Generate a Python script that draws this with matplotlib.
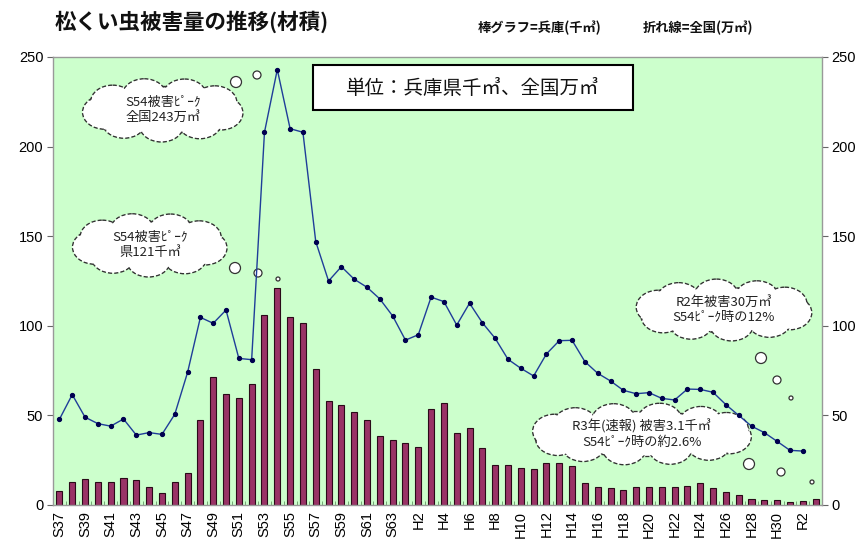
import numpy as np
import matplotlib.pyplot as plt
from matplotlib.patches import Ellipse, Circle, Rectangle

plt.rcParams['font.family'] = ['Noto Sans CJK JP', 'DejaVu Sans']

# 年度 (S37 .. R3)
years = (["S%d" % y for y in range(37, 64)]
         + ["H%d" % y for y in range(1, 31)]
         + ["R1", "R2", "R3"])

# 兵庫県 被害量 (千m3) S37..R3
hyogo = [8, 13, 14.3, 12.7, 13, 15, 13.8, 10, 6.5, 13, 18, 47.4, 71.4, 62, 59.9,
         67.7, 105.8, 121, 105, 101.7, 75.7, 58.2, 55.6, 51.9, 47.3, 38.3, 36.5,
         34.4, 32.4, 53.4, 56.9, 40.4, 43.2, 31.8, 22.3, 22.3, 20.6, 20.1, 23.6,
         23.6, 21.7, 12.5, 10.2, 9.3, 8.4, 10, 10, 10, 10, 10.6, 12.3, 9.3, 7.3,
         5.8, 3.5, 2.8, 2.8, 1.7, 2.2, 3.1]

# 全国 被害量 (万m3) S37..R2
zenkoku = [47.8, 61.6, 49, 45.4, 44, 48, 39, 40.4, 39.4, 50.6, 74, 104.7, 101.4,
           108.8, 81.8, 81.1, 208, 243, 210, 208, 147, 125, 133, 126, 121.5, 115,
           105.5, 92, 95, 116, 113.5, 100.4, 112.6, 101.7, 93, 81.3, 76.3, 72,
           84.3, 91.7, 91.9, 80, 73.5, 69.2, 64, 62.1, 62.7, 59.5, 58.6, 64.7,
           64.5, 62.9, 56, 50, 44, 40.4, 35.5, 30.5, 30.1]

yticks = [0, 50, 100, 150, 200, 250]

W, H = 858, 539
fig = plt.figure(figsize=(W / 100, H / 100), dpi=100)
fig.patch.set_facecolor('white')

ax = fig.add_axes([53 / W, 1 - 505 / H, (822 - 53) / W, (505 - 57) / H])
ax.set_facecolor('#ccffcc')

# overlay for pixel positioned decorations
ov = fig.add_axes([0, 0, 1, 1], zorder=-1)
ov.set_xlim(0, W)
ov.set_ylim(H, 0)
ov.axis('off')

x = np.arange(len(years))
ax.bar(x, hyogo, width=0.47, color='#993366', edgecolor='#2a0a18',
       linewidth=0.8, zorder=2)
ax.plot(x[:len(zenkoku)], zenkoku, color='#1f3d99', linewidth=1.0,
        marker='o', markersize=2.8, markerfacecolor='#000050',
        markeredgecolor='#000050', zorder=4)

ax.set_xlim(-0.5, len(years) - 0.5)
ax.set_ylim(0, 250)
ax.set_yticks(yticks)
ax.set_xticks(x[::2])
ax.set_xticklabels(years[::2], rotation=90, family='Liberation Sans', fontsize=10.5)
ax.set_xticks(np.arange(-0.5, len(years), 1), minor=True)
ax.tick_params(axis='x', which='major', length=0, pad=4)
ax.tick_params(axis='x', which='minor', length=3, color='#669966', direction='in')
ax.tick_params(axis='y', length=4, color='#666666', labelright=True, right=True,
               labelsize=10.5, pad=3)
for lab in ax.get_yticklabels():
    lab.set_family('Liberation Sans')
for sp in ax.spines.values():
    sp.set_color('#999999')
    sp.set_linewidth(1)


def cloud(cx, cy, a, b, n, r, lines):
    ang = np.linspace(0, 2 * np.pi, n, endpoint=False) + 0.2
    parts = [(cx, cy, a - r * 0.5, b - r * 0.5)]
    for t in ang:
        parts.append((cx + (a - r) * np.cos(t), cy + (b - r) * np.sin(t), r * 1.3, r))
    for px, py, ra, rb in parts:
        e = Ellipse((px, py), 2 * ra, 2 * rb, facecolor='white', edgecolor='#333333',
                    linestyle=(0, (3, 1.5)), linewidth=1.0, transform=ov.transData,
                    clip_on=False, zorder=3)
        ax.add_patch(e)
    for px, py, ra, rb in parts:
        e = Ellipse((px, py), 2 * ra - 2.2, 2 * rb - 2.2, facecolor='white',
                    edgecolor='none', transform=ov.transData, clip_on=False, zorder=3.1)
        ax.add_patch(e)
    ax.text(cx, cy, lines, transform=ov.transData, ha='center', va='center',
            fontsize=9.5, linespacing=1.25, zorder=3.2, color='#222222')


def bubbles(pts):
    for px, py, r in pts:
        ax.add_patch(Circle((px, py), r, facecolor='white', edgecolor='#333333',
                            linewidth=0.9, transform=ov.transData, clip_on=False,
                            zorder=3))


cloud(163, 110, 76, 32, 9, 17, "S54被害ﾋﾟｰｸ\n全国243万㎥")
bubbles([(236, 82, 5.5), (257, 75, 4)])
cloud(150, 245, 73, 32, 9, 17, "S54被害ﾋﾟｰｸ\n県121千㎥")
bubbles([(235, 268, 5.5), (258, 273, 4), (278, 279, 2)])
cloud(724, 310, 84, 31, 10, 17, "R2年被害30万㎥\nS54ﾋﾟｰｸ時の12%")
bubbles([(761, 358, 5.5), (777, 380, 4), (791, 398, 2)])
cloud(642, 434, 106, 31, 12, 17, "R3年(速報) 被害3.1千㎥\nS54ﾋﾟｰｸ時の約2.6%")
bubbles([(749, 464, 5.5), (781, 472, 4), (812, 482, 2)])

# 単位ボックス
ax.add_patch(Rectangle((313, 65), 320, 45, facecolor='white', edgecolor='black',
                       linewidth=1.5, transform=ov.transData, clip_on=False,
                       zorder=5))
ax.text(473, 88, "単位：兵庫県千㎥、全国万㎥", transform=ov.transData,
        ha='center', va='center', fontsize=14, zorder=6, color='#111111')

fig.text(55 / W, 1 - 22 / H, "松くい虫被害量の推移(材積)", fontsize=15.5,
         fontweight='bold', va='center', ha='left', color='#111111')
fig.text(478 / W, 1 - 28 / H, "棒グラフ=兵庫(千㎥)", fontsize=9.5,
         fontweight='bold', va='center', ha='left', color='#111111')
fig.text(643 / W, 1 - 28 / H, "折れ線=全国(万㎥)", fontsize=9.5,
         fontweight='bold', va='center', ha='left', color='#111111')

fig.savefig('out.png', dpi=100)
